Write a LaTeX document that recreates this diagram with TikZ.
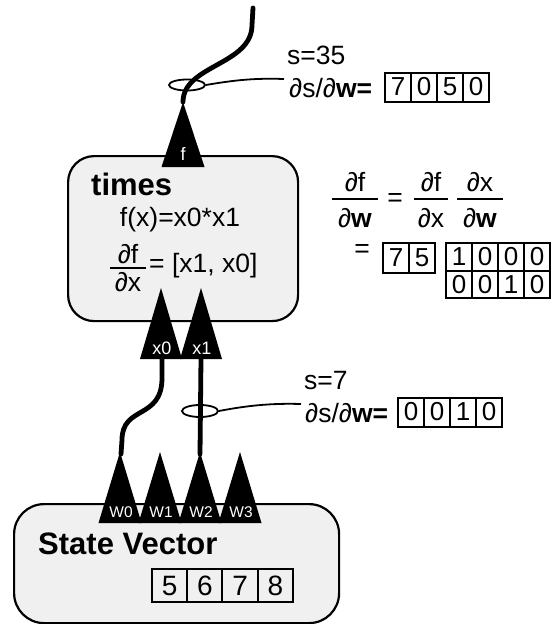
\documentclass[tikz,border=0pt]{standalone}
\usepackage{fontspec}
\setmainfont{Liberation Sans}
\usetikzlibrary{shapes.geometric}
\begin{document}
\begin{tikzpicture}[x=1pt,y=-1pt,
  panel/.style={draw, line width=2.2pt, fill=gray!12, rounded corners=26pt, inner sep=0pt},
  wire/.style={line width=4.8pt, line cap=round},
  port/.style={fill=black},
  portlbl/.style={text=white, inner sep=0pt, font=\fontsize{18}{18}\selectfont},
  wlbl/.style={text=white, inner sep=0pt, font=\fontsize{15.5}{15.5}\selectfont},
  ring/.style={ellipse, draw, line width=1.8pt, inner sep=0pt},
  leader/.style={line width=1.8pt},
  txt/.style={inner sep=0pt, font=\fontsize{26.5}{26.5}\selectfont},
  title/.style={inner sep=0pt, font=\fontsize{31}{31}\selectfont\bfseries},
  cell/.style={draw, line width=2pt, inner sep=0pt, minimum width=26pt, minimum height=29pt, font=\fontsize{26}{26}\selectfont},
  bigcell/.style={cell, minimum width=35.25pt, minimum height=33pt, font=\fontsize{28}{28}\selectfont},
  bar/.style={line width=2pt}]
\useasboundingbox (0,0) rectangle (550,624);

% operator and state panels
\node[panel, anchor=north west, minimum width=230pt, minimum height=165pt] (times) at (67,155) {};
\node[panel, anchor=north west, minimum width=325pt, minimum height=119pt, rounded corners=30pt] (state) at (13,503) {};

% port tips and feet
\coordinate (ftip) at (183,102);
\coordinate (topend) at (253,8);
\coordinate (x0foot) at (162,358);
\coordinate (x1foot) at (201,358);
\coordinate (w0tip) at (121,454);
\coordinate (w2tip) at (200,454);

% wires
\draw[wire] (ftip) .. controls (183,65) and (252,65) .. (252,25) -- (topend);
\draw[wire] (x0foot) -- (162,378) .. controls (162,420) and (122,405) .. (122,440) -- (w0tip);
\draw[wire] (x1foot) -- (w2tip);

% output port f
\fill[port] (161.5,167) -- (ftip) -- (204.5,167) -- cycle;
\node[portlbl] (flbl) at (183,154) {f};

% input ports x0, x1
\fill[port] (140,359) -- (161,288) -- (182,359) -- cycle;
\fill[port] (180,359) -- (201,288) -- (222,359) -- cycle;
\node[portlbl] (x0lbl) at (162,348) {x0};
\node[portlbl] (x1lbl) at (202,348) {x1};

% state ports W0..W3
\foreach \c [count=\i from 0] in {120,160,200,240}{
  \fill[port] ({\c-21.5},523) -- (\c,452) -- ({\c+21.5},523) -- cycle;
  \node[wlbl] (w\i lbl) at ({\c+1},512) {W\i};
}

% operator text
\node[title, anchor=west] (tname) at (91,184) {times};
\node[txt] (tfun) at (180,220) {f(x)=x0*x1};
\node[txt] (tnum) at (128,254) {∂f};
\node[txt] (tden) at (128,282) {∂x};
\draw[bar] (110,268) -- (146,268);
\node[txt, anchor=west] (tgrad) at (149,266) {= [x1, x0]};

% state text and values
\node[title, anchor=west] (sname) at (38,544) {State Vector};
\foreach \v [count=\i from 0] in {5,6,7,8}
  \node[bigcell] (sv\i) at ({169.6+35.25*\i},585.5) {\v};

% sensitivity at the output
\node[ring, minimum width=36pt, minimum height=11pt] (ring1) at (187,85) {};
\coordinate (lead1) at (284,79);
\draw[leader] (ring1.east) .. controls (235,80) and (255,78) .. (lead1);
\node[txt, anchor=west] (s1) at (287,55) {s=35};
\node[txt, anchor=west] (g1) at (289,88) {∂s/∂\textbf{w=}};
\foreach \v [count=\i from 0] in {7,0,5,0}
  \node[cell] (a\i) at ({398+26*\i},87) {\v};

% sensitivity at x1
\node[ring, minimum width=36pt, minimum height=12pt] (ring2) at (200,411) {};
\coordinate (lead2) at (301,404);
\draw[leader] (ring2.east) .. controls (245,406) and (270,403) .. (lead2);
\node[txt, anchor=west] (s2) at (304,381) {s=7};
\node[txt, anchor=west] (g2) at (305,413) {∂s/∂\textbf{w=}};
\foreach \v [count=\i from 0] in {0,0,1,0}
  \node[cell] (b\i) at ({411+26*\i},412) {\v};

% chain rule
\node[txt] (c1n) at (355,182) {∂f};
\node[txt] (c1d) at (355,218) {∂\textbf{w}};
\draw[bar] (332,199) -- (378,199);
\node[txt] (ceq1) at (395,200) {=};
\node[txt] (c2n) at (431,182) {∂f};
\node[txt] (c2d) at (431,218) {∂x};
\draw[bar] (414,199) -- (448,199);
\node[txt] (c3n) at (480,182) {∂x};
\node[txt] (c3d) at (480,218) {∂\textbf{w}};
\draw[bar] (457,199) -- (503,199);
\node[txt] (ceq2) at (362,251) {=};
\foreach \v [count=\i from 0] in {7,5}
  \node[cell, minimum height=30pt] (j\i) at ({396+26*\i},258) {\v};
\foreach \v [count=\i from 0] in {1,0,0,0}
  \node[cell, minimum height=27.5pt] (m0\i) at ({459+26*\i},257) {\v};
\foreach \v [count=\i from 0] in {0,0,1,0}
  \node[cell, minimum height=27.5pt] (m1\i) at ({459+26*\i},284.5) {\v};
\end{tikzpicture}
\end{document}
